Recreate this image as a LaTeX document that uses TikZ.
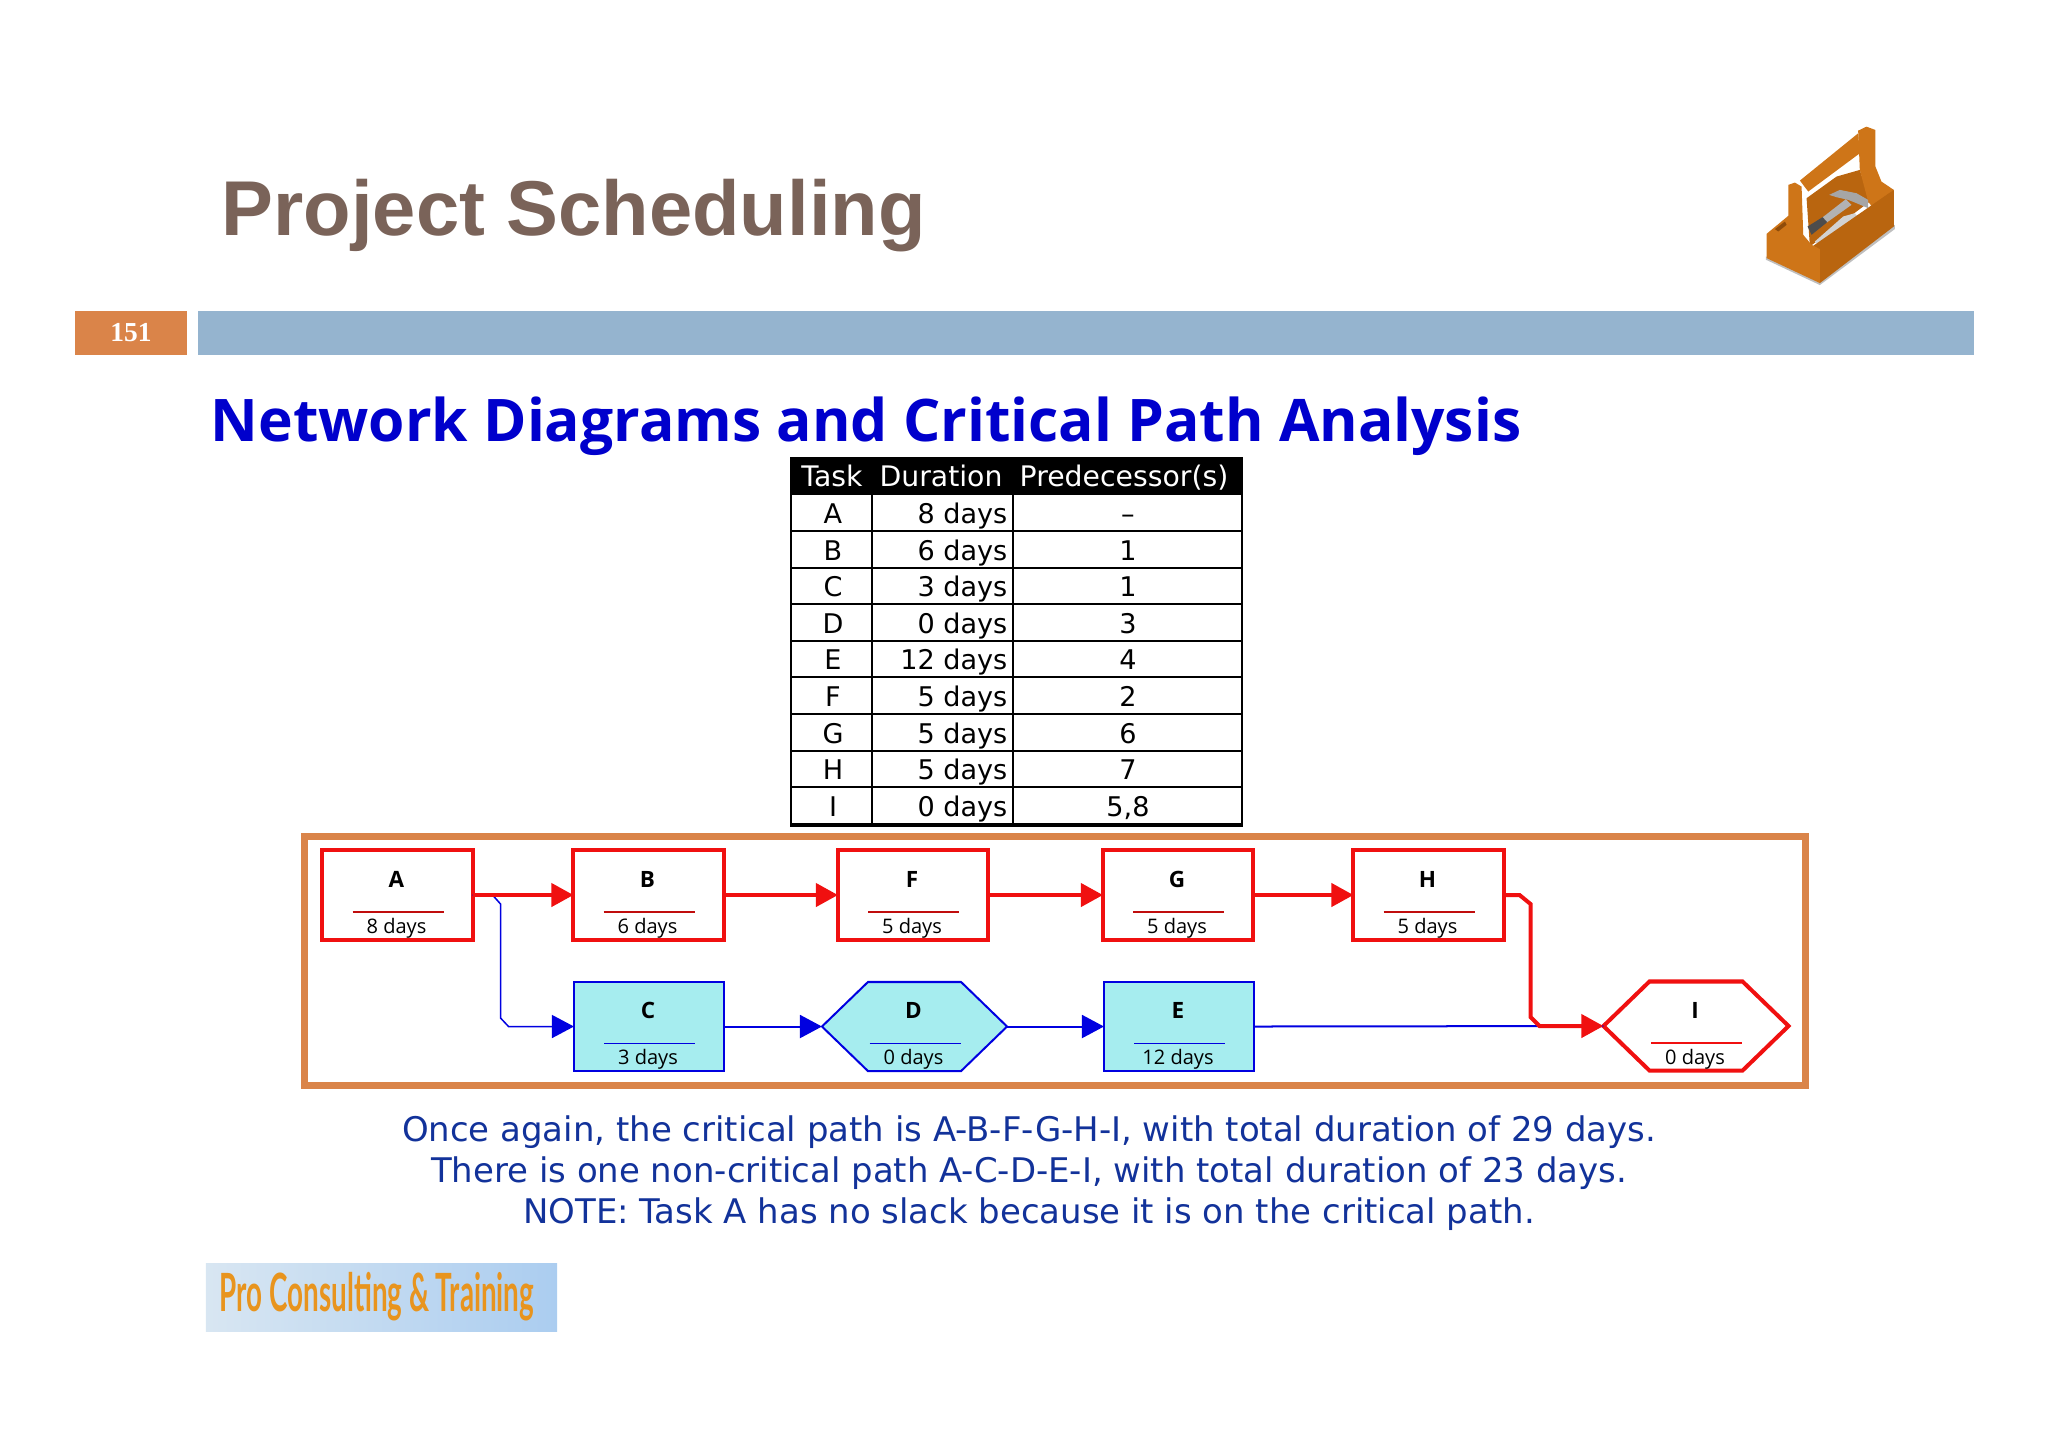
\documentclass[tikz,border=0pt]{standalone}
\usepackage{fontspec}
\setmainfont{DejaVu Sans}
\newfontfamily\titlefont{Liberation Sans}
\newfontfamily\numfont{Liberation Serif}
\newfontfamily\taskfont{Open Sans}
\newfontfamily\logofont{Lato}
\usetikzlibrary{positioning, calc, arrows.meta}

\definecolor{bandorange}{HTML}{DA8449}
\definecolor{bandblue}{HTML}{95B4CF}
\definecolor{titlebrown}{HTML}{7A6359}
\definecolor{headblue}{HTML}{0000CC}
\definecolor{noteblue}{HTML}{12329A}
\definecolor{cpred}{HTML}{F01010}
\definecolor{ncblue}{HTML}{0000E0}
\definecolor{dotcyan}{HTML}{A6EDEF}
\definecolor{woodmid}{HTML}{B9650F}
\definecolor{woodlight}{HTML}{CE7518}
\definecolor{wooddark}{HTML}{8F4C0A}
\definecolor{logoleft}{HTML}{D8E6F2}
\definecolor{logoright}{HTML}{ABCDF0}
\definecolor{logotext}{HTML}{E8941E}

\tikzset{
    tiphead/.style={-{Triangle[length=.22cm,width=.23cm]}},
    cpflow/.style={draw=cpred, line width=.04cm, tiphead},
    ncflow/.style={draw=ncblue, line width=.02cm, tiphead},
    cptask/.style={draw=cpred, fill=white, line width=.04cm, inner sep=0, outer sep=0},
    nctask/.style={draw=ncblue, fill=dotcyan, line width=.02cm, inner sep=0, outer sep=0},
    boxsize/.style={rectangle, minimum width=1.5cm, minimum height=.89cm},
    hexsize/.style={rectangle, minimum width=1.85cm, minimum height=.89cm, inner sep=0, outer sep=0},
    tasktitle/.style={font=\taskfont\bfseries\fontsize{6.4}{7}\selectfont, inner sep=0},
    taskdays/.style={font=\taskfont\fontsize{5.7}{6}\selectfont, inner sep=0},
    cell/.style={font=\fontsize{7.7}{9}\selectfont, inner sep=0, text height=5.8pt, text depth=1.6pt},
    headcell/.style={cell, font=\fontsize{8.05}{9}\selectfont, text=white},
    note/.style={font=\fontsize{9.65}{12}\selectfont, text=noteblue, inner sep=0},
}

\newcommand{\tasktext}[4]{
    \node[tasktitle] (#1title) at ($(#1.center)+(-1,-16)$) {#2};
    \node[taskdays]  (#1days)  at ($(#1.center)+(-1,33)$)  {#3};
    \draw[#4, line width=.015cm] ($(#1.center)+(-45,17)$) -- ($(#1.center)+(46,17)$);
}
\newcommand{\hexoutline}[2]{
    \draw[#2] (#1.west) -- ($(#1.north west)+(46,0)$) -- ($(#1.north east)+(-46,0)$) -- (#1.east)
        -- ($(#1.south east)+(-46,0)$) -- ($(#1.south west)+(46,0)$) -- cycle;
}

\begin{document}
\begin{tikzpicture}[x=.01cm, y=-.01cm]
    \useasboundingbox (0,0) rectangle (2048,1447);

    \node[font=\titlefont\bfseries\fontsize{22.1}{26}\selectfont, text=titlebrown, anchor=west, inner sep=0] (title) at (221,216) {Project Scheduling};
    \node[fill=bandorange, minimum width=1.12cm, minimum height=.44cm, inner sep=0] (pagebox) at (131,333) {};
    \node[font=\numfont\bfseries\fontsize{7.8}{9}\selectfont, text=white, inner sep=0] (pagenum) at (pagebox.center) {151};
    \node[fill=bandblue, minimum width=17.74cm, minimum height=.44cm, inner sep=0] (band) at (1086,333) {};
    \node[font=\taskfont\bfseries\fontsize{16.7}{19}\selectfont, text=headblue, anchor=west, inner sep=0] (subtitle) at (210,426) {Network Diagrams and Critical Path Analysis};

    % toolbox
    \begin{scope}[shift={(1740,110)}, x=.00333cm, y=-.00333cm]
        \fill[gray!50] (78,440) -- (240,512) -- (465,345) -- (465,358) -- (240,526) -- (78,450) -- cycle;
        \fill[woodmid] (200,265) -- (290,200) -- (360,180) -- (390,275) -- (210,410) -- cycle;
        \fill[woodlight] (180,212) -- (355,70) -- (360,130) -- (205,245) -- cycle;
        \fill[woodlight] (355,62) -- (380,50) -- (407,60) -- (407,170) -- (425,215) -- (462,240) -- (400,295) -- (385,275) -- (360,180) -- cycle;
        \fill[gray!70] (268,255) -- (300,240) -- (350,250) -- (385,270) -- (385,295) -- (350,280) -- (325,270) -- (290,262) -- cycle;
        \fill[gray!60] (245,325) -- (318,268) -- (335,285) -- (258,340) -- cycle;
        \fill[black!70] (203,350) -- (248,322) -- (262,337) -- (215,375) -- cycle;
        \fill[gray!35] (225,395) -- (310,320) -- (345,310) -- (362,330) -- (330,350) -- (240,408) -- cycle;
        \fill[woodmid] (220,408) -- (462,240) -- (462,350) -- (240,520) -- cycle;
        \fill[woodlight] (80,372) -- (145,318) -- (145,225) -- (165,218) -- (185,230) -- (190,375) -- (215,405) -- (240,418) -- (240,520) -- (80,445) -- cycle;
        \fill[wooddark] (105,358) -- (135,335) -- (140,345) -- (115,365) -- cycle;
    \end{scope}

    % table
    \node[fill=black, minimum width=4.51cm, minimum height=.38cm, inner sep=0] (headrow) at (1016.5,476) {};
    \node[headcell] (headtask) at (832,479) {Task};
    \node[headcell] (headdur)  at (941,479) {Duration};
    \node[headcell] (headpred) at (1124,479) {Predecessor(s)};
    \foreach \name/\dur/\pred [count=\i from 0] in {A/8 days/--, B/6 days/1, C/3 days/1, D/0 days/3, E/12 days/4, F/5 days/2, G/5 days/6, H/5 days/7, I/0 days/{5,8}} {
        \node[cell] (task\i) at (833,516+36.6*\i) {\name};
        \node[cell, anchor=east] (dur\i) at (1008,516+36.6*\i) {\dur};
        \node[cell] (pred\i) at (1128,516+36.6*\i) {\pred};
        \draw[line width=.02cm] (791,531+36.6*\i) -- (1242,531+36.6*\i);
    }
    \draw[line width=.02cm] (791,458) rectangle (1242,826);
    \draw[line width=.02cm] (872,495) -- (872,826) (1013,495) -- (1013,826);

    % network
    \node[draw=bandorange, line width=.07cm, minimum width=15cm, minimum height=2.49cm, inner sep=0] (frame) at (1055,961) {};

    \node[cptask, boxsize] at (397.5,895)  (A) {};
    \node[cptask, boxsize] at (648.5,895)  (B) {};
    \node[cptask, boxsize] at (913,895)    (F) {};
    \node[cptask, boxsize] at (1178,895)   (G) {};
    \node[cptask, boxsize] at (1428.5,895) (H) {};
    \node[nctask, boxsize] at (649,1026.5) (C) {};
    \node[hexsize] at (914.5,1026.5) (D) {};
    \node[nctask, boxsize] at (1179,1026.5) (E) {};
    \node[hexsize] at (1696,1026) (I) {};
    \hexoutline{D}{nctask}
    \hexoutline{I}{cptask}

    \tasktext{A}{A}{8 days}{cpred!80!black}
    \tasktext{B}{B}{6 days}{cpred!80!black}
    \tasktext{F}{F}{5 days}{cpred!80!black}
    \tasktext{G}{G}{5 days}{cpred!80!black}
    \tasktext{H}{H}{5 days}{cpred!80!black}
    \tasktext{C}{C}{3 days}{ncblue}
    \tasktext{D}{D}{0 days}{ncblue}
    \tasktext{E}{E}{12 days}{ncblue}
    \tasktext{I}{I}{0 days}{cpred}

    \draw[ncflow, line width=.015cm] (A.east) -- ++(20,0) -- ++(8,9) -- ++(0,114) -- ++(8,8.5) -- (C.west);
    \draw[cpflow] (A) -- (B);
    \draw[cpflow] (B) -- (F);
    \draw[cpflow] (F) -- (G);
    \draw[cpflow] (G) -- (H);
    \draw[ncflow] (C) -- (D);
    \draw[ncflow] (D) -- (E);
    \draw[ncflow, -] (E.east) -- (I.west);
    \draw[cpflow] (H.east) -- ++(16,0) -- ++(11,9) -- ++(0,113) -- ++(9,9) -- (I.west);

    \node[note] (line1) at (1029,1132) {Once again, the critical path is A-B-F-G-H-I, with total duration of 29 days.};
    \node[note] (line2) at (1029,1173) {There is one non-critical path A-C-D-E-I, with total duration of 23 days.};
    \node[note] (line3) at (1029,1214) {NOTE: Task A has no slack because it is on the critical path.};

    \node[left color=logoleft, right color=logoright, minimum width=3.51cm, minimum height=.68cm, inner sep=0] (logo) at (381.5,1297) {};
    \node[font=\logofont\bfseries\fontsize{15}{17}\selectfont, text=logotext, xscale=.527, transform shape, inner sep=0] (logotext) at (377,1297) {Pro Consulting \& Training};
\end{tikzpicture}
\end{document}
